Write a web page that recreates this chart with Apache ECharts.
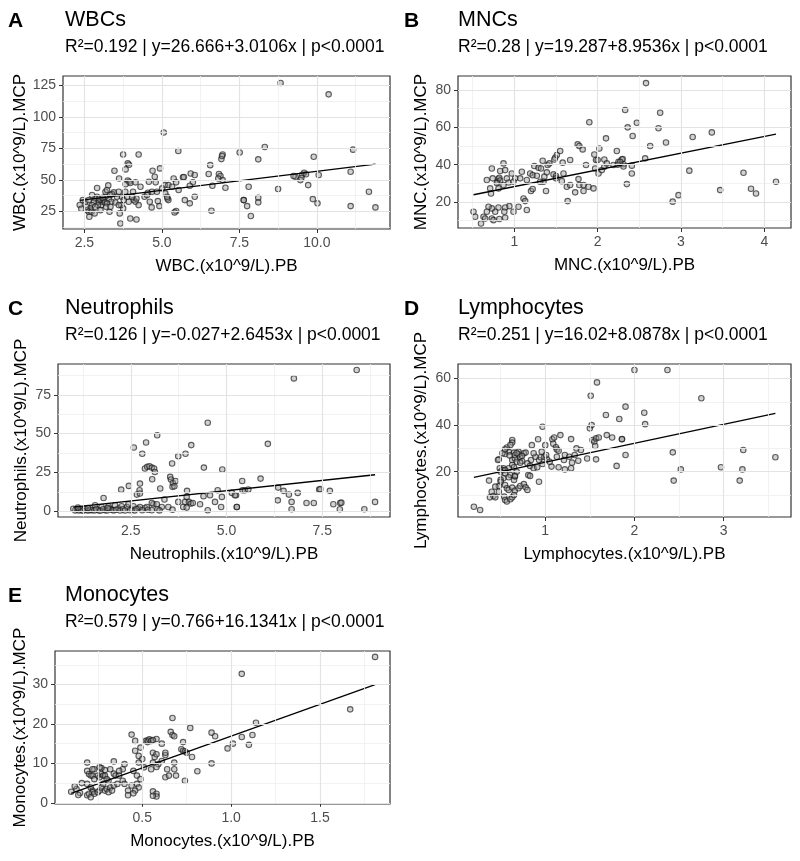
<!DOCTYPE html>
<html><head><meta charset="utf-8">
<script src="https://cdn.jsdelivr.net/npm/echarts@6/dist/echarts.min.js"></script>
<style>html,body{margin:0;padding:0;background:#fff}#c{width:800px;height:861px}</style>
</head><body><div id="c"></div>
<script>
// ---------------- DATA ----------------
const wbcPoints = [[5.06,87.7],[5.53,72.9],[3.75,70.2],[4.25,70.2],[3.90,63.1],[3.94,62.0],[3.47,57.2],[3.83,58.3],[4.70,57.2],[4.94,59.1],[3.62,51.1],[3.27,45.6],[2.91,43.5],[3.90,49.5],[3.94,48.5],[3.98,47.5],[3.83,46.5],[4.15,48.0],[4.31,44.5],[4.58,48.5],[4.77,52.5],[4.80,48.0],[5.10,45.8],[5.21,45.8],[5.38,51.1],[5.46,48.0],[5.68,52.0],[5.71,52.3],[5.93,55.1],[6.06,53.8],[6.00,48.0],[5.90,45.3],[6.56,61.7],[6.51,54.6],[6.84,54.6],[6.89,53.0],[6.82,51.1],[6.96,70.2],[6.92,66.5],[6.94,69.0],[7.51,71.8],[6.96,49.8],[6.63,45.3],[7.05,43.7],[7.64,33.9],[6.60,25.4],[5.74,33.9],[5.90,31.3],[6.06,36.5],[5.46,25.2],[5.41,24.1],[5.21,33.9],[5.18,35.2],[4.92,29.1],[4.87,33.1],[4.67,28.1],[4.61,32.6],[4.44,36.5],[4.55,39.7],[4.09,33.9],[4.15,32.6],[4.18,35.2],[3.98,19.3],[4.18,18.5],[3.66,15.3],[3.64,23.3],[3.75,27.3],[3.69,29.9],[4.07,40.5],
[3.45,40.0],[3.39,38.7],[3.34,37.9],[3.29,34.4],[3.37,32.6],[3.31,24.6],[3.18,36.6],[3.12,33.9],[3.07,32.6],[3.02,33.9],[2.96,32.6],[3.05,29.9],[2.91,36.6],[2.85,35.2],[2.80,32.0],[2.75,29.9],[2.69,27.3],[2.64,24.6],[2.66,20.6],[2.59,25.9],[2.53,32.6],[2.56,28.6],[2.75,37.9],[2.64,33.9],[3.61,40.5],[3.71,36.6],[3.82,40.5],[3.18,40.5],[3.23,41.9],[4.68,40.5],[4.84,40.5],[5.01,43.2],[5.33,44.5],[5.54,41.9],[4.52,37.9],[5.11,39.2],[5.17,36.6],
[2.98,35.2],[3.09,35.8],[3.16,32.0],[3.23,31.3],[2.94,29.9],[2.85,28.6],[3.20,28.6],[3.34,28.6],[3.50,32.0],[3.55,36.6],[3.61,29.9],[3.77,33.9],[3.93,32.6],[4.04,36.6],[4.25,29.9],[3.88,36.6],[2.73,24.6],[2.83,23.3],[3.02,25.9],[2.35,30.0],[2.40,27.0],[2.45,34.0],
[8.83,127.0],[10.38,118.0],[8.32,76.1],[8.11,66.3],[11.17,74.0],[9.90,68.4],[9.59,55.6],[9.53,54.0],[9.47,49.8],[9.31,52.5],[9.25,53.0],[9.65,54.5],[9.50,51.5],[10.06,53.8],[11.09,56.4],[7.80,44.5],[8.75,42.7],[9.72,45.8],[7.64,33.9],[7.75,29.1],[8.11,35.7],[8.11,32.1],[7.87,21.2],[9.87,34.7],[10.02,31.3],[11.09,29.1],[11.68,40.5],[11.89,28.1]];
const wbcFit = [[2.35,33.7],[11.89,62.5]];

const mncPoints = [[2.33,69.3],[1.90,62.7],[2.10,54.1],[1.76,50.9],[1.78,50.0],[1.82,48.2],[2.02,48.7],[2.23,47.3],[1.96,45.5],[1.98,42.5],[2.00,42.5],[2.08,42.8],[1.86,39.8],[1.67,42.5],[1.55,47.3],[1.51,45.2],[1.49,43.7],[1.48,42.8],[1.58,41.1],[1.34,42.1],[1.40,39.8],[1.42,40.7],[1.24,39.3],[1.29,38.4],[1.32,38.0],[1.19,35.3],[1.22,34.4],[1.27,34.1],[1.36,33.6],[1.39,35.9],[1.47,34.8],[1.50,33.9],[1.50,32.7],[1.59,35.3],[1.57,31.2],[1.63,28.2],[1.67,29.1],[1.77,32.3],[1.78,29.1],[1.83,29.1],[1.89,28.2],[1.95,27.3],[1.83,25.9],[1.73,25.2],[1.64,20.5],[2.01,35.3],[2.05,37.1],[2.08,38.9],[1.97,38.0],[2.11,40.7],[2.19,39.8],[2.25,41.6],[2.29,42.8],[2.31,40.2],[1.35,30.9],[1.38,25.9],[1.20,25.9],[1.22,27.0],[1.11,21.9],[1.13,20.5],[1.15,15.7],
[1.05,17.5],[0.99,14.8],[0.94,17.8],[0.89,17.1],[0.88,14.8],[0.81,17.1],[0.77,14.8],[0.73,16.6],[0.69,17.5],[0.67,14.8],[0.63,12.1],[0.65,11.2],[0.73,11.2],[0.75,10.3],[0.82,10.9],[0.89,11.6],[0.60,8.5],[0.51,14.8],[0.53,12.1],[1.31,30.9],[1.15,31.8],[1.07,32.7],[1.01,32.7],[0.93,30.5],[0.87,29.1],[0.81,27.3],[0.72,24.6],[0.71,27.3],[0.80,31.0],[0.81,32.5],[0.82,33.0],[0.83,31.5],[0.79,30.2],[0.73,38.0],[0.83,36.6],[0.87,40.7],[0.89,37.1],[0.74,32.7],[0.67,31.8],[0.97,35.3],[1.09,36.2],[0.99,30.9],[0.91,32.7],
[2.58,83.7],[2.75,67.8],[2.36,60.0],[2.47,62.5],[2.42,55.4],[2.73,59.5],[2.63,50.0],[2.82,51.9],[3.14,54.8],[3.37,57.3],[2.57,43.4],[2.30,43.0],[2.27,41.5],[2.24,40.0],[2.31,39.0],[2.41,39.5],[2.41,35.3],[2.35,29.6],[3.10,36.8],[3.75,35.7],[3.47,26.4],[2.90,20.2],[2.97,23.7],[3.84,27.1],[3.90,24.6],[4.14,30.9]];
const mncFit = [[0.51,23.9],[4.14,56.4]];

const neuPoints = [[4.51,57.0],[3.19,49.0],[2.58,41.1],[2.90,44.3],[2.80,37.0],[4.08,42.6],[3.74,35.5],[3.93,37.0],[3.58,30.7],[2.87,27.5],[2.93,28.6],[2.99,29.0],[3.05,28.1],[3.11,27.5],[3.13,25.3],[4.41,28.1],[4.89,26.9],[2.74,17.8],[3.06,20.6],[3.53,22.1],[3.55,20.4],[3.60,18.2],[3.59,15.7],[3.64,16.1],[3.67,19.5],[2.45,16.3],[2.25,13.9],[2.66,10.7],[2.73,13.5],[2.74,11.4],[3.27,14.6],[3.97,13.1],[1.79,8.5],[3.96,9.2],[3.92,6.0],[4.02,6.0],[4.07,4.9],[4.12,5.3],
[4.40,9.6],[4.57,10.3],[4.77,13.5],[4.88,9.2],[4.70,6.0],[5.14,11.8],[5.25,10.3],[5.42,13.5],[4.31,4.5],[4.51,0.6],[4.86,2.7],[5.27,2.7],[3.31,2.7],[3.09,4.5],[2.87,2.1],[2.70,1.7],[2.53,1.0],[2.40,2.7],[2.18,1.7],[2.00,1.0],[1.83,0.6],[1.66,0.6],[1.48,0.6],[1.35,0.6],[3.48,2.7],[3.59,1.0],[3.74,6.0],[3.87,2.7],[3.96,2.3],[3.38,7.5],[1.57,3.8],[1.74,2.7],[1.92,3.2],[2.09,3.8],[2.26,3.2],[2.44,4.5],[2.57,3.2],[2.74,2.7],[2.92,2.7],[3.05,5.3],[3.18,4.5],
[1.05,0.5],[1.10,1.2],[1.15,0.4],[1.20,0.9],[1.25,0.3],[1.30,1.5],[1.40,0.4],[1.45,1.1],[1.55,0.5],[1.60,1.3],[1.70,0.3],[1.78,1.2],[1.88,0.4],[1.95,1.5],[2.05,0.5],[2.12,0.9],[2.22,0.4],[2.30,1.2],[2.35,0.4],[2.48,0.6],[2.60,0.5],[2.65,1.4],[2.80,0.6],[2.95,0.9],[3.05,0.6],[3.20,1.2],[3.25,0.5],[1.00,1.6],[1.12,2.3],[1.38,2.0],[1.90,2.0],
[8.40,91.0],[6.76,85.6],[6.08,43.4],[5.41,19.5],[5.89,21.0],[5.22,10.3],[5.48,13.5],[5.57,14.0],[6.35,15.2],[6.49,13.1],[6.63,10.7],[6.86,11.8],[6.34,7.0],[6.70,6.0],[7.09,5.3],[7.28,5.3],[6.70,1.2],[7.42,14.0],[7.45,14.2],[7.70,13.1],[7.79,4.5],[7.97,5.3],[8.00,5.5],[7.96,1.2],[8.60,1.2],[8.88,6.0],[5.27,2.7]];
const neuFit = [[1.00,2.6],[8.88,23.5]];

const lymPoints = [[1.58,58.3],[1.51,52.6],[1.68,44.3],[1.83,42.6],[1.90,47.9],[1.50,38.6],[1.52,40.0],[1.53,33.6],[1.55,32.9],[1.57,34.3],[1.60,34.7],[1.69,35.7],[1.75,34.7],[1.86,33.9],[0.97,39.3],[0.92,33.9],[1.08,33.9],[1.10,34.7],[1.17,35.7],[1.29,34.0],[0.85,31.4],[1.00,31.4],[1.09,32.0],[1.12,30.5],[1.13,29.5],[1.15,29.0],[1.22,27.2],[1.27,26.4],[1.33,27.2],[1.35,30.0],[1.40,29.3],[1.47,25.7],[1.56,31.0],[1.57,25.3],[1.80,22.5],
[1.13,26.4],[1.21,25.0],[1.30,23.9],[1.37,24.7],[1.07,22.2],[1.15,21.9],[1.22,21.0],[1.29,21.5],[0.93,25.0],[0.95,26.2],[0.99,26.4],[1.02,25.3],[1.05,24.3],[0.97,23.3],[0.84,25.0],[0.89,26.4],[0.87,27.9],[0.96,28.6],[1.01,27.2],[0.80,23.6],[0.83,22.5],[0.87,21.5],[0.91,21.9],[0.81,18.6],[0.83,18.2],[0.93,15.7],
[0.74,24.6],[0.72,26.4],[0.76,27.9],[0.78,28.2],[0.70,28.6],[0.65,28.2],[0.59,28.6],[0.55,27.6],[0.52,27.9],[0.48,25.3],[0.47,25.0],[0.63,25.0],[0.66,25.7],[0.68,24.3],[0.72,23.9],[0.63,22.9],[0.65,21.9],[0.59,21.5],[0.53,21.5],[0.49,21.5],[0.52,20.7],[0.55,20.7],[0.57,30.4],[0.55,29.6],[0.63,33.6],[0.63,32.5],[0.61,31.5],
[0.50,20.0],[0.55,19.3],[0.61,18.6],[0.66,17.9],[0.68,20.0],[0.65,16.5],[0.66,18.2],[0.59,17.6],[0.53,17.2],[0.50,16.5],[0.37,16.2],[0.50,15.7],[0.48,13.9],[0.44,13.6],[0.40,11.4],[0.38,9.0],[0.42,9.6],[0.44,9.0],[0.48,11.4],[0.55,14.3],[0.57,12.9],[0.59,12.2],[0.63,13.2],[0.66,11.9],[0.70,12.9],[0.72,13.9],[0.76,14.7],[0.78,13.3],[0.80,12.2],[0.54,9.3],[0.55,7.9],[0.57,7.2],[0.61,8.2],[0.63,9.0],[0.65,10.0],[0.20,5.0],[0.27,3.6],[0.60,27.0],[0.66,27.2],[0.70,27.5],[0.74,26.8],[0.68,28.0],
[2.00,63.6],[2.37,63.6],[2.75,51.5],[2.11,45.3],[2.12,40.4],[1.86,34.0],[1.90,27.2],[2.43,28.3],[2.52,21.0],[2.44,16.2],[2.97,21.9],[3.22,29.3],[3.21,21.0],[3.18,16.2],[3.58,26.2]];
const lymFit = [[0.20,17.6],[3.58,45.0]];

const monoPoints = [[1.06,32.7],[0.67,21.5],[0.77,19.0],[0.66,18.0],[0.67,17.2],[0.68,16.9],[0.44,17.3],[0.46,15.7],[0.52,15.7],[0.53,15.4],[0.53,15.8],[0.54,16.1],[0.55,15.7],[0.58,16.2],[0.56,15.9],[0.61,15.0],[0.73,15.4],[0.72,13.6],[0.73,13.2],[0.74,13.0],[0.75,12.7],[0.89,17.8],[0.91,16.9],[0.98,13.8],[1.01,15.0],[1.06,16.7],[0.78,11.6],[0.89,10.0],[0.81,8.0],[0.74,5.6],
[0.63,12.1],[0.68,10.2],[0.68,8.5],[0.63,6.5],[0.64,8.5],[0.65,6.9],[0.69,6.9],[0.61,10.6],[0.63,12.7],[0.56,12.7],[0.57,11.6],[0.58,12.3],[0.59,9.8],[0.58,9.1],[0.55,8.5],[0.56,10.2],[0.49,14.0],[0.46,13.2],[0.48,11.9],[0.50,11.1],[0.48,10.2],[0.51,9.0],
[0.45,8.1],[0.47,6.9],[0.49,6.0],[0.47,4.8],[0.44,4.4],[0.48,3.9],[0.46,3.1],[0.45,2.4],[0.42,3.1],[0.42,1.9],[0.56,2.9],[0.58,2.3],[0.58,1.6],[0.56,1.8],[0.34,10.5],
[0.40,9.8],[0.39,8.5],[0.37,8.1],[0.34,7.4],[0.35,6.9],[0.37,6.9],[0.39,5.6],[0.40,4.8],[0.32,8.5],[0.29,8.3],[0.27,8.8],[0.26,9.0],[0.23,8.5],[0.22,8.5],[0.19,8.1],[0.19,10.2],
[0.20,7.3],[0.21,6.9],[0.22,6.9],[0.23,6.0],[0.25,6.9],[0.26,6.5],[0.27,7.3],[0.28,6.9],[0.29,6.9],[0.19,4.8],[0.21,3.9],[0.22,3.1],[0.22,2.7],[0.23,2.3],[0.25,2.7],[0.26,3.1],[0.27,3.9],[0.28,4.8],[0.29,3.1],[0.30,3.5],[0.31,2.7],[0.32,3.9],[0.33,3.1],[0.34,4.4],[0.36,4.8],[0.31,5.6],[0.30,6.0],[0.19,1.9],[0.20,2.3],[0.21,1.4],
[0.10,2.8],[0.13,3.5],[0.15,2.5],[0.16,5.0],[0.12,4.2],[0.14,2.0],[1.81,37.0],[1.67,23.7],[1.14,20.3],[1.12,17.2],[1.10,14.7]];
const monoFit = [[0.10,2.4],[1.81,30.0]];

const panelLetters = ['A','B','C','D','E'];
const panelTitles = ['WBCs','MNCs','Neutrophils','Lymphocytes','Monocytes'];
const panelStats = ['R²=0.192 | y=26.666+3.0106x | p<0.0001','R²=0.28 | y=19.287+8.9536x | p<0.0001','R²=0.126 | y=-0.027+2.6453x | p<0.0001','R²=0.251 | y=16.02+8.0878x | p<0.0001','R²=0.579 | y=0.766+16.1341x | p<0.0001'];
const xNames = ['WBC.(x10^9/L).PB','MNC.(x10^9/L).PB','Neutrophils.(x10^9/L).PB','Lymphocytes.(x10^9/L).PB','Monocytes.(x10^9/L).PB'];
const yNames = ['WBC.(x10^9/L).MCP','MNC.(x10^9/L).MCP','Neutrophils.(x10^9/L).MCP','Lymphocytes.(x10^9/L).MCP','Monocytes.(x10^9/L).MCP'];

const xTicksA = [2.5,5,7.5,10], xLabelsA = ['2.5','5.0','7.5','10.0'], xMinorA = [3.75,6.25,8.75,11.25];
const yTicksA = [25,50,75,100,125], yLabelsA = ['25','50','75','100','125'], yMinorA = [12.5,37.5,62.5,87.5,112.5];
const xTicksB = [1,2,3,4], xLabelsB = ['1','2','3','4'], xMinorB = [0.5,1.5,2.5,3.5];
const yTicksB = [20,40,60,80], yLabelsB = ['20','40','60','80'], yMinorB = [10,30,50,70];
const xTicksC = [2.5,5,7.5], xLabelsC = ['2.5','5.0','7.5'], xMinorC = [1.25,3.75,6.25,8.75];
const yTicksC = [0,25,50,75], yLabelsC = ['0','25','50','75'], yMinorC = [12.5,37.5,62.5,87.5];
const xTicksD = [1,2,3], xLabelsD = ['1','2','3'], xMinorD = [0.5,1.5,2.5,3.5];
const yTicksD = [20,40,60], yLabelsD = ['20','40','60'], yMinorD = [10,30,50];
const xTicksE = [0.5,1.0,1.5], xLabelsE = ['0.5','1.0','1.5'], xMinorE = [0.25,0.75,1.25,1.75];
const yTicksE = [0,10,20,30], yLabelsE = ['0','10','20','30'], yMinorE = [5,15,25,35];

// ---------------- LAYOUT ----------------
const FONT = '"Liberation Sans", Arial, Helvetica, sans-serif';
const panels = [
  {pts: wbcPoints, fit: wbcFit, grid:{left:63, top:76, width:327, height:153}, xr:[1.81,12.36], yr:[10.9,132.6],
   xt:xTicksA, xl:xLabelsA, xm:xMinorA, yt:yTicksA, yl:yLabelsA, ym:yMinorA, lx:8, tx:65, ty:0, ytx:18},
  {pts: mncPoints, fit: mncFit, grid:{left:458, top:76, width:333, height:152}, xr:[0.324,4.32], yr:[6.1,87.5],
   xt:xTicksB, xl:xLabelsB, xm:xMinorB, yt:yTicksB, yl:yLabelsB, ym:yMinorB, lx:404, tx:458, ty:0, ytx:418},
  {pts: neuPoints, fit: neuFit, grid:{left:58, top:364, width:332, height:153}, xr:[0.60,9.27], yr:[-3.75,94.9],
   xt:xTicksC, xl:xLabelsC, xm:xMinorC, yt:yTicksC, yl:yLabelsC, ym:yMinorC, lx:8, tx:65, ty:288, ytx:18},
  {pts: lymPoints, fit: lymFit, grid:{left:458, top:364, width:333, height:153}, xr:[0.022,3.755], yr:[0.58,66.2],
   xt:xTicksD, xl:xLabelsD, xm:xMinorD, yt:yTicksD, yl:yLabelsD, ym:yMinorD, lx:404, tx:458, ty:288, ytx:418},
  {pts: monoPoints, fit: monoFit, grid:{left:55, top:651, width:335, height:153}, xr:[0.009,1.894], yr:[-0.3,38.5],
   xt:xTicksE, xl:xLabelsE, xm:xMinorE, yt:yTicksE, yl:yLabelsE, ym:yMinorE, lx:8, tx:65, ty:575, ytx:18}
];

function lbl(ticks, labels) {
  return v => { const i = ticks.findIndex(t => Math.abs(t - v) < 1e-9); return i >= 0 ? labels[i] : ''; };
}

const grids = [], xAxes = [], yAxes = [], series = [], graphics = [];
panels.forEach((p, i) => {
  grids.push(Object.assign({show:true, borderColor:'#333333', borderWidth:1.2, backgroundColor:'#ffffff', containLabel:false}, p.grid));
  xAxes.push({gridIndex:i, type:'value', min:p.xr[0], max:p.xr[1],
    axisLine:{show:false}, splitLine:{show:false},
    axisTick:{show:true, inside:false, length:4, customValues:p.xt, lineStyle:{color:'#333333', width:1}},
    axisLabel:{show:true, customValues:p.xt, formatter:lbl(p.xt, p.xl), color:'#4D4D4D', fontSize:14, margin:7, fontFamily:FONT},
    name:xNames[i], nameLocation:'middle', nameGap:29, nameTextStyle:{fontSize:17, color:'#000', fontFamily:FONT}});
  yAxes.push({gridIndex:i, type:'value', min:p.yr[0], max:p.yr[1],
    axisLine:{show:false}, splitLine:{show:false},
    axisTick:{show:true, inside:false, length:4, customValues:p.yt, lineStyle:{color:'#333333', width:1}},
    axisLabel:{show:true, customValues:p.yt, formatter:lbl(p.yt, p.yl), color:'#4D4D4D', fontSize:14, margin:7, fontFamily:FONT},
    name:yNames[i], nameLocation:'middle', nameGap:p.grid.left - p.ytx - 12, nameTextStyle:{fontSize:17, color:'#000', fontFamily:FONT}});
  const gl = [];
  p.xm.forEach(v => gl.push({xAxis:v, lineStyle:{color:'#EFEFEF', width:0.8, type:'solid'}}));
  p.ym.forEach(v => gl.push({yAxis:v, lineStyle:{color:'#EFEFEF', width:0.8, type:'solid'}}));
  p.xt.forEach(v => gl.push({xAxis:v, lineStyle:{color:'#E3E3E3', width:1.2, type:'solid'}}));
  p.yt.forEach(v => gl.push({yAxis:v, lineStyle:{color:'#E3E3E3', width:1.2, type:'solid'}}));
  series.push({type:'scatter', xAxisIndex:i, yAxisIndex:i, data:[], symbolSize:0, silent:true, z:1, animation:false,
    markLine:{silent:true, symbol:['none','none'], label:{show:false}, animation:false, emphasis:{disabled:true}, data:gl}});
  series.push({type:'scatter', xAxisIndex:i, yAxisIndex:i, data:p.pts, symbol:'circle', symbolSize:5.5, z:2, animation:false,
    itemStyle:{color:'rgba(150,150,150,0.55)', borderColor:'rgba(25,25,25,0.85)', borderWidth:1.1}});
  series.push({type:'line', xAxisIndex:i, yAxisIndex:i, data:p.fit, symbol:'none', z:3, animation:false,
    lineStyle:{color:'#000', width:1.3}});
  graphics.push({type:'text', x:p.lx, y:21 + p.ty, style:{text:panelLetters[i], font:'bold 21px ' + FONT, fill:'#000', verticalAlign:'middle', align:'left'}});
  graphics.push({type:'text', x:p.tx, y:20 + p.ty, style:{text:panelTitles[i], font:'21.5px ' + FONT, fill:'#000', verticalAlign:'middle', align:'left'}});
  graphics.push({type:'text', x:p.tx, y:47 + p.ty, style:{text:panelStats[i], font:'17.5px ' + FONT, fill:'#000', verticalAlign:'middle', align:'left'}});
});

const chart = echarts.init(document.getElementById('c'), null, {renderer:'canvas'});
chart.setOption({animation:false, backgroundColor:'#ffffff', grid:grids, xAxis:xAxes, yAxis:yAxes, series:series, graphic:graphics});
</script></body></html>
